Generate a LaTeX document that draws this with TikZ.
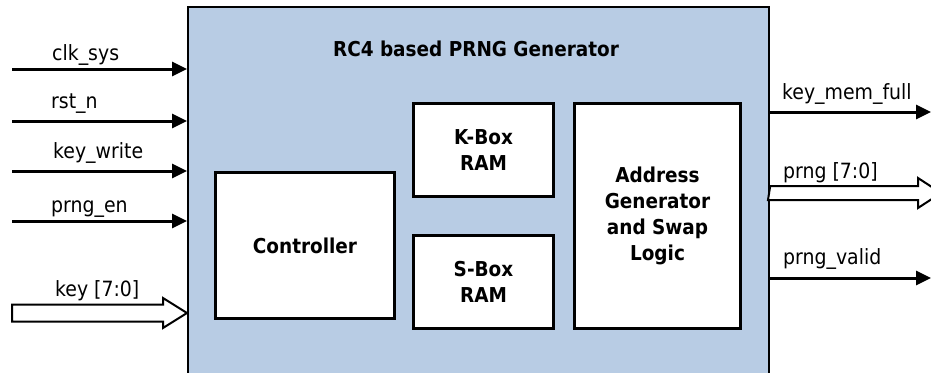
\documentclass[tikz,border=0pt]{standalone}
\usepackage{fontspec}
\setmainfont{DejaVu Sans Condensed}
\usetikzlibrary{arrows.meta}
\definecolor{blockblue}{RGB}{184,204,228}
\tikzset{
  mainblock/.style={draw=black, line width=2.2pt, fill=blockblue, inner sep=0pt, anchor=north west},
  subblock/.style={draw=black, line width=3pt, fill=white, inner sep=0pt, anchor=north west, align=center, font=\fontsize{20.5}{26}\selectfont\bfseries},
  sig/.style={line width=3pt, -{Triangle[length=15pt,width=14pt]}},
  bus/.style={draw=black, line width=2pt, fill=white, line join=miter},
  lbl/.style={anchor=base west, inner sep=0pt, font=\fontsize{21}{24}\selectfont},
}
\begin{document}
\begin{tikzpicture}[x=1pt,y=-1pt]
\useasboundingbox (0,0) rectangle (931,372);
\clip (0,0) rectangle (931,372);
\node[mainblock, minimum width=581pt, minimum height=390pt] (main) at (187,6) {};
\node[anchor=base, inner sep=0pt, font=\fontsize{20.5}{24}\selectfont\bfseries] (title) at (476,56) {RC4 based PRNG Generator};
% sub blocks
\node[subblock, minimum width=179pt, minimum height=146pt] (ctrl) at (214,171) {Controller};
\node[subblock, minimum width=140pt, minimum height=93pt] (kbox) at (412,102) {K-Box\\RAM};
\node[subblock, minimum width=140pt, minimum height=93pt] (sbox) at (412,234) {S-Box\\RAM};
\node[subblock, minimum width=166pt, minimum height=225pt] (addr) at (573,102) {Address\\Generator\\and Swap\\Logic};
% inputs
\coordinate (clk) at (12,69);
\coordinate (rst) at (12,121);
\coordinate (kw) at (12,171);
\coordinate (pen) at (12,221);
\draw[sig] (clk) -- (clk -| main.west);
\draw[sig] (rst) -- (rst -| main.west);
\draw[sig] (kw) -- (kw -| main.west);
\draw[sig] (pen) -- (pen -| main.west);
\node[lbl] (lclk) at (52,60) {clk\_sys};
\node[lbl] (lrst) at (51,108) {rst\_n};
\node[lbl] (lkw) at (53,158) {key\_write};
\node[lbl] (lpen) at (51,212) {prng\_en};
% key bus
\coordinate (keyin) at (12,313);
\draw[bus] (keyin) ++(0,-8.5) -- (163,304.5) -- (163,298) -- (main.west |- keyin) -- (163,328) -- (163,321.5) -- (12,321.5) -- cycle;
\node[lbl] (lkey) at (55,296) {key [7:0]};
% outputs
\coordinate (kmf) at (931,112);
\coordinate (pv) at (931,278);
\draw[sig] (main.east |- kmf) -- (kmf);
\draw[sig] (main.east |- pv) -- (pv);
\node[lbl] (lkmf) at (782,99) {key\_mem\_full};
\node[lbl] (lpv) at (783,264) {prng\_valid};
\coordinate (prngout) at (941,193);
\draw[bus] (main.east |- prngout) ++(0,-7) -- (918,186) -- (918,178) -- (prngout) -- (918,208) -- (918,200) -- (768,200) -- cycle;
\node[lbl] (lprng) at (783,178) {prng [7:0]};
\end{tikzpicture}
\end{document}
